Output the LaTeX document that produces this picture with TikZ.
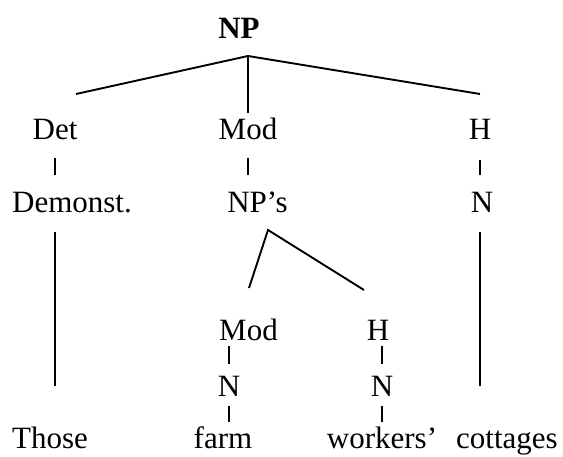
\documentclass[tikz,border=0pt]{standalone}
\usepackage{fontspec}
\setmainfont{Liberation Serif}
\begin{document}
\begin{tikzpicture}[x=1pt,y=-1pt,
    word/.style={inner sep=0pt,text height=21pt,text depth=0pt,anchor=base,
      font=\fontsize{31}{37}\selectfont},
    branch/.style={line width=1.9pt},
    tick/.style={line width=1.5pt}]
  \useasboundingbox (0,0) rectangle (563,457);

  % Top of the tree
  \node[word,font=\fontsize{31}{37}\selectfont\bfseries] (np) at (239,39) {NP};
  \coordinate (npfoot) at (248,56);
  \coordinate (detend) at (76,94);
  \coordinate (headend) at (480,94);

  % First level
  \node[word] (det) at (55,140) {Det};
  \node[word] (mod) at (248,140) {Mod};
  \node[word] (head) at (480,140) {H};
  \node[word] (demonst) at (72,213) {Demonst.};
  \node[word] (nps) at (257.5,213) {NP’s};
  \node[word] (nhead) at (482,213) {N};

  % Inside NP's
  \coordinate (npsfoot) at (268,230);
  \coordinate (modbend) at (249,288);
  \coordinate (headbend) at (364,290);
  \node[word] (modb) at (248.5,341) {Mod};
  \node[word] (headb) at (378,341) {H};
  \node[word] (nfarm) at (229,397) {N};
  \node[word] (nwork) at (382,397) {N};

  % The words
  \node[word] (those) at (50,449) {Those};
  \node[word] (farm) at (223,449) {farm};
  \node[word] (workers) at (382,449) {workers’};
  \node[word] (cottages) at (507,449) {cottages};

  % Branches
  \draw[branch] (detend) -- (npfoot) -- (headend);
  \draw[tick,shorten >=6pt] (npfoot) -- (npfoot |- mod.north);
  \draw[branch] (modbend) -- (npsfoot) -- (headbend);

  % Short ticks
  \draw[tick,shorten <=18pt,shorten >=17pt] (det.south) -- (det.south |- demonst.north);
  \draw[tick,shorten <=18pt,shorten >=17pt] (mod.south) -- (mod.south |- nps.north);
  \draw[tick,shorten <=20pt,shorten >=17pt] (head.south) -- (head.south |- nhead.north);
  \draw[tick,shorten <=5pt,shorten >=12pt] (nfarm.north |- modb.south) -- (nfarm.north);
  \draw[tick,shorten <=5pt,shorten >=12pt] (nwork.north |- headb.south) -- (nwork.north);
  \draw[tick,shorten <=9pt,shorten >=6pt] (nfarm.south) -- (nfarm.south |- farm.north);
  \draw[tick,shorten <=9pt,shorten >=6pt] (nwork.south) -- (nwork.south |- workers.north);

  % Long lines
  \draw[tick,shorten <=19pt,shorten >=42pt] (det.south |- demonst.south) -- (det.south |- those.north);
  \draw[tick,shorten <=19pt,shorten >=42pt] (head.south |- nhead.south) -- (head.south |- cottages.north);
\end{tikzpicture}
\end{document}
